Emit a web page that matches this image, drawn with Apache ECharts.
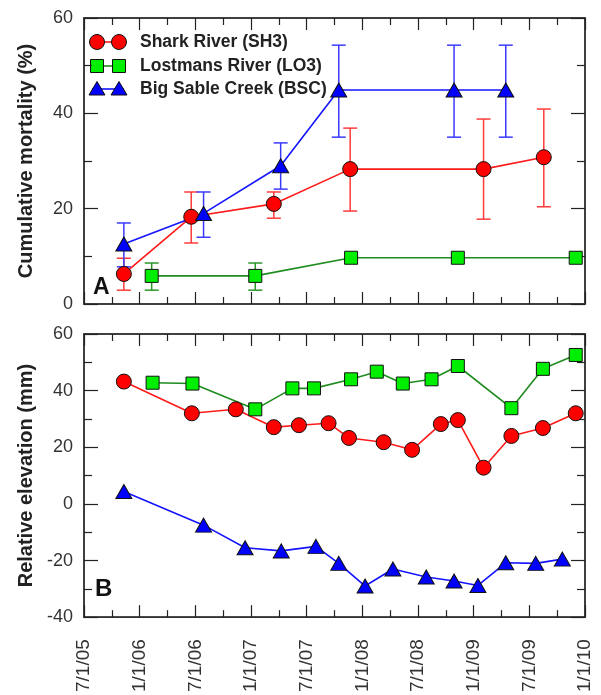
<!DOCTYPE html>
<html>
<head>
<meta charset="utf-8">
<script src="https://cdn.jsdelivr.net/npm/echarts@6/dist/echarts.min.js"></script>
<style>
  html, body { margin: 0; padding: 0; background: #fff; }
  #chart { width: 601px; height: 695px; }
</style>
</head>
<body>
<div id="chart"></div>
<script>
// Panel A: cumulative mortality (%) with error bar ranges [low, high]
const sh3MortDates = ["2005-11-10", "2006-06-18", "2007-03-15", "2007-11-22", "2009-02-03", "2009-08-18"];
const sh3Mort = [6.3, 18.3, 21.0, 28.3, 28.3, 30.8];
const sh3MortErr = [[2.9, 9.6], [12.8, 23.5], [18.0, 23.5], [19.5, 36.9], [17.8, 38.8], [20.4, 40.9]];

const lo3MortDates = ["2006-02-10", "2007-01-15", "2007-11-25", "2008-11-10", "2009-12-01"];
const lo3Mort = [5.9, 5.9, 9.7, 9.7, 9.7];
const lo3MortErr = [[2.9, 8.6], [2.9, 8.6], null, null, null];

const bscMortDates = ["2005-11-10", "2006-07-28", "2007-04-07", "2007-10-15", "2008-10-28", "2009-04-15"];
const bscMort = [12.6, 19.0, 29.0, 44.9, 44.9, 44.9];
const bscMortErr = [[7.8, 17.0], [14.0, 23.5], [24.1, 33.8], [35.0, 54.3], [35.0, 54.3], [35.0, 54.3]];

// Panel B: relative elevation (mm)
const sh3ElevDates = ["2005-11-10", "2006-06-20", "2006-11-12", "2007-03-15", "2007-06-06", "2007-09-12",
  "2007-11-18", "2008-03-10", "2008-06-12", "2008-09-15", "2008-11-10", "2009-02-03", "2009-05-03",
  "2009-08-15", "2009-12-01"];
const sh3Elev = [43.2, 32.0, 33.4, 27.1, 27.8, 28.5, 23.3, 21.8, 19.1, 28.2, 29.6, 12.8, 24.0, 26.8, 32.0];

const lo3ElevDates = ["2006-02-13", "2006-06-22", "2007-01-15", "2007-05-15", "2007-07-25", "2007-11-25",
  "2008-02-18", "2008-05-12", "2008-08-15", "2008-11-10", "2009-05-03", "2009-08-15", "2009-12-01"];
const lo3Elev = [42.8, 42.5, 33.4, 40.8, 40.8, 44.0, 46.7, 42.5, 44.0, 48.7, 33.8, 47.7, 52.6];

const bscElevDates = ["2005-11-10", "2006-07-28", "2006-12-12", "2007-04-09", "2007-08-01", "2007-10-15",
  "2008-01-10", "2008-04-10", "2008-07-28", "2008-10-28", "2009-01-15", "2009-04-15", "2009-07-22",
  "2009-10-18"];
const bscElev = [4.4, -7.5, -15.5, -16.6, -15.0, -21.0, -29.0, -23.0, -25.8, -27.2, -28.8, -20.8, -21.0, -19.5];

const seriesNames = ["Shark River (SH3)", "Lostmans River (LO3)", "Big Sable Creek (BSC)"];

// months since 7/1/05
function toMonths(d) {
  const [y, m, day] = d.split("-").map(Number);
  return (y - 2005) * 12 + (m - 7) + (day - 1) / 30.44;
}
function pairs(dates, vals) {
  return dates.map((d, i) => [toMonths(d), vals[i]]);
}
function errRows(dates, errs) {
  return dates.map((d, i) => errs[i] ? [toMonths(d), errs[i][0], errs[i][1]] : null).filter(Boolean);
}
function dateLabel(v) {
  const m = 7 + v;
  const year = 2005 + Math.floor((m - 1) / 12);
  const month = ((m - 1) % 12) + 1;
  return month + "/1/" + String(year).slice(2);
}

const FONT = "Liberation Sans, Arial, sans-serif";
const red = { fill: "#ff0000", line: "#ff1a1a", err: "#ff3b3b" };
const green = { fill: "#00ee00", line: "#1e8c1e", err: "#2a962a" };
const blue = { fill: "#0000ff", line: "#1414ff", err: "#3a3aff" };
const styles = [
  { c: red, symbol: "circle", size: 15 },
  { c: green, symbol: "rect", size: 13 },
  { c: blue, symbol: "triangle", size: [16, 14] }
];

function xAxisFor(grid, pos, labels) {
  return {
    type: "value", gridIndex: grid, position: pos, min: 0, max: 54, interval: 6,
    axisLine: { show: true, onZero: false, lineStyle: { color: "#333", width: 1.5 } },
    axisTick: { show: true, inside: true, length: 12, lineStyle: { color: "#222", width: 1.2 } },
    minorTick: { show: true, splitNumber: 2, length: 7, lineStyle: { color: "#222", width: 1.2 } },
    axisLabel: {
      show: labels, rotate: 90, margin: 22, color: "#333", fontSize: 19, fontFamily: FONT,
      formatter: dateLabel, showMinLabel: true, showMaxLabel: true
    },
    splitLine: { show: false }
  };
}
function yAxisFor(grid, pos, min, max, name, labels) {
  return {
    type: "value", gridIndex: grid, position: pos, min: min, max: max, interval: 20,
    name: labels ? name : "", nameLocation: "middle", nameGap: 48,
    nameTextStyle: { fontSize: 20, fontWeight: "bold", color: "#222", fontFamily: FONT },
    axisLine: { show: true, onZero: false, lineStyle: { color: "#333", width: 1.5 } },
    axisTick: { show: true, inside: true, length: 14, lineStyle: { color: "#222", width: 1.2 } },
    minorTick: { show: true, splitNumber: 2, length: 8, lineStyle: { color: "#222", width: 1.2 } },
    axisLabel: { show: labels, margin: 11, color: "#333", fontSize: 18, fontFamily: FONT },
    splitLine: { show: false }
  };
}

function lineSeries(k, data, xi, yi) {
  const s = styles[k];
  return {
    name: seriesNames[k], type: "line", xAxisIndex: xi, yAxisIndex: yi, data: data, z: 3,
    symbol: s.symbol, symbolSize: s.size,
    lineStyle: { color: s.c.line, width: 1.6 },
    itemStyle: { color: s.c.fill, borderColor: "#111", borderWidth: 1 },
    animation: false
  };
}
function errSeries(k, data, xi, yi) {
  const c = styles[k].c;
  return {
    name: seriesNames[k] + " err", type: "custom", xAxisIndex: xi, yAxisIndex: yi, data: data, z: 2,
    silent: true, animation: false,
    renderItem: (params, api) => {
      const lo = api.coord([api.value(0), api.value(1)]);
      const hi = api.coord([api.value(0), api.value(2)]);
      const w = 7;
      const style = { stroke: c.err, lineWidth: 1.5 };
      return {
        type: "group",
        children: [
          { type: "line", shape: { x1: lo[0], y1: lo[1], x2: hi[0], y2: hi[1] }, style: style },
          { type: "line", shape: { x1: lo[0] - w, y1: lo[1], x2: lo[0] + w, y2: lo[1] }, style: style },
          { type: "line", shape: { x1: hi[0] - w, y1: hi[1], x2: hi[0] + w, y2: hi[1] }, style: style }
        ]
      };
    },
    encode: { x: 0, y: [1, 2] }
  };
}

// legend drawn as graphic: line with two markers, then the name
function legendGraphic() {
  const out = [];
  const rowY = [42, 66, 89];
  styles.forEach((s, i) => {
    const y = rowY[i];
    out.push({ type: "line", shape: { x1: 92, y1: y, x2: 124, y2: y }, style: { stroke: s.c.line, lineWidth: 1.6 } });
    [97, 119].forEach(cx => {
      let shape;
      if (s.symbol === "circle") shape = { type: "circle", shape: { cx: cx, cy: y, r: 7.5 } };
      else if (s.symbol === "rect") shape = { type: "rect", shape: { x: cx - 6.5, y: y - 6.5, width: 13, height: 13 } };
      else shape = { type: "polygon", shape: { points: [[cx, y - 7.5], [cx + 8, y + 6], [cx - 8, y + 6]] } };
      shape.style = { fill: s.c.fill, stroke: "#111", lineWidth: 1 };
      out.push(shape);
    });
    out.push({
      type: "text", x: 140, y: y, style: {
        text: seriesNames[i], fill: "#222", font: "bold 17.5px " + FONT, verticalAlign: "middle"
      }
    });
  });
  return out;
}

const chart = echarts.init(document.getElementById("chart"), null, { renderer: "canvas" });
chart.setOption({
  backgroundColor: "#fff",
  animation: false,
  textStyle: { fontFamily: FONT },
  title: [
    { text: "A", left: 93, top: 276, padding: 0, textStyle: { fontSize: 23, fontWeight: "bold", color: "#111" } },
    { text: "B", left: 95, top: 577, padding: 0, textStyle: { fontSize: 24, fontWeight: "bold", color: "#111" } }
  ],
  graphic: legendGraphic(),
  grid: [
    { left: 84, right: 16, top: 18, height: 286, show: true, borderColor: "#333", borderWidth: 1.5 },
    { left: 84, right: 16, top: 334, height: 286, show: true, borderColor: "#333", borderWidth: 1.5 }
  ],
  xAxis: [
    xAxisFor(0, "bottom", false),
    xAxisFor(0, "top", false),
    xAxisFor(1, "bottom", true),
    xAxisFor(1, "top", false)
  ],
  yAxis: [
    yAxisFor(0, "left", 0, 60, "Cumulative mortality (%)", true),
    yAxisFor(0, "right", 0, 60, "", false),
    yAxisFor(1, "left", -40, 60, "Relative elevation (mm)", true),
    yAxisFor(1, "right", -40, 60, "", false)
  ],
  series: [
    lineSeries(0, pairs(sh3MortDates, sh3Mort), 0, 0),
    lineSeries(1, pairs(lo3MortDates, lo3Mort), 0, 0),
    lineSeries(2, pairs(bscMortDates, bscMort), 0, 0),
    errSeries(0, errRows(sh3MortDates, sh3MortErr), 0, 0),
    errSeries(1, errRows(lo3MortDates, lo3MortErr), 0, 0),
    errSeries(2, errRows(bscMortDates, bscMortErr), 0, 0),
    lineSeries(0, pairs(sh3ElevDates, sh3Elev), 2, 2),
    lineSeries(1, pairs(lo3ElevDates, lo3Elev), 2, 2),
    lineSeries(2, pairs(bscElevDates, bscElev), 2, 2)
  ]
});
</script>
</body>
</html>
